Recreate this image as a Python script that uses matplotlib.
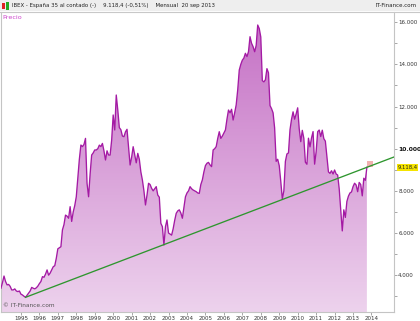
import numpy as np
import matplotlib
matplotlib.use("Agg")
import matplotlib.pyplot as plt
from matplotlib.patches import Polygon, Rectangle
from matplotlib.colors import LinearSegmentedColormap

# ---------------- data ----------------
start_year, start_month = 1993, 11          # first monthly close: Nov 1993
close = [
    3380, 3650,
    3960, 3700, 3540, 3560, 3470, 3300, 3300, 3350, 3250, 3220, 3250, 3100,        # 1994
    3060, 3000, 2950, 3050, 3150, 3250, 3420, 3380, 3350, 3400, 3480, 3600,        # 1995
    3700, 3930, 3900, 4050, 4250, 4000, 4100, 4250, 4400, 4450, 4800, 5250,        # 1996
    5300, 5350, 6150, 6400, 6850, 6800, 6700, 7250, 6550, 7000, 7300, 7720,        # 1997
    8600, 9500, 10175, 10100, 10200, 10490, 8360, 7720, 8800, 9700, 9800, 9940,    # 1998
    9940, 10000, 10170, 10100, 10250, 9900, 9464, 9900, 9700, 9700, 10400, 11600,  # 1999
    10887, 12547, 11835, 11000, 10900, 10600, 10570, 10800, 10920, 10095, 9227, 9600,  # 2000
    10095, 9700, 9330, 9780, 9500, 8900, 8515, 8000, 7330, 7800, 8360, 8300,       # 2001
    8120, 8000, 8100, 8200, 7800, 7700, 6460, 6300, 5430, 6300, 6620, 6000,        # 2002
    5950, 5900, 6200, 6600, 6935, 7050, 7100, 6950, 6700, 7200, 7720, 7900,        # 2003
    8000, 8200, 8100, 8040, 8000, 7960, 7900, 7880, 8300, 8520, 8900, 9200,        # 2004
    9310, 9350, 9230, 9150, 9940, 10000, 10100, 10490, 10807, 10490, 10600, 10750, # 2005
    10890, 11400, 11835, 11700, 11870, 11360, 11700, 12080, 12800, 13733, 14000, 14200,  # 2006
    14300, 14525, 14370, 14600, 15313, 15000, 14840, 14600, 14900, 15868, 15700, 15300,  # 2007
    13229, 13170, 13270, 13798, 13600, 12046, 11900, 11700, 10987, 9400, 9500, 9196,     # 2008
    8450, 7620, 8000, 9400, 9750, 9800, 10900, 11400, 11750, 11400, 11650, 11940,        # 2009
    10947, 10333, 10871, 10492, 9359, 9263, 10499, 10087, 10514, 10812, 9267, 9859,      # 2010
    10806, 10887, 10576, 10878, 10476, 10359, 9631, 8900, 8830, 8955, 8800, 8990,        # 2011
    8800, 8750, 8100, 7100, 6100, 7100, 6740, 7500, 7750, 7900, 7950, 8200,              # 2012
    8362, 8280, 7960, 8400, 8300, 7762, 8600, 8500, 9118,                                # 2013
]
last_value_label = "9.118,4"

trend_dates = [1995.25, 2015.2]
trend_values = [2950, 9600]

year_labels = list(range(1995, 2015))
ytick_values = [4000, 6000, 8000, 10000, 12000, 14000, 16000]
yminor_values = [3000, 5000, 7000, 9000, 11000, 13000, 15000]

header_text = "IBEX - España 35 al contado (-)    9.118,4 (-0,51%)    Mensual  20 sep 2013"

# ---------------- figure ----------------
W, H = 420, 321
fig = plt.figure(figsize=(W / 100, H / 100), dpi=100)
fig.patch.set_facecolor("white")

def fx(px):
    return px / W

def fy(py):
    return 1 - py / H

# header bar
fig.patches.append(Rectangle((0, fy(11)), 1, 11 / H, transform=fig.transFigure,
                             facecolor="#eeeeee", edgecolor="none", zorder=0))
fig.lines.append(plt.Line2D([0, 1], [fy(11.5), fy(11.5)], transform=fig.transFigure,
                            color="#c8c8c8", lw=0.8))
# small candle icon
fig.patches.append(Rectangle((fx(2), fy(9)), fx(3), 6 / H, transform=fig.transFigure,
                             facecolor="#dd2222", edgecolor="none"))
fig.patches.append(Rectangle((fx(6), fy(10)), fx(3), 8 / H, transform=fig.transFigure,
                             facecolor="#22aa22", edgecolor="none"))
fig.text(fx(12), fy(5.8), header_text, fontsize=3.9, color="#222222",
         ha="left", va="center", family="DejaVu Sans")
fig.text(fx(417), fy(5.8), "IT-Finance.com", fontsize=4.0, color="#222222",
         ha="right", va="center")

ax = fig.add_axes([fx(1), fy(312), fx(393), (312 - 12) / H])
ymin, ymax = 2253, 16485
xmin, xmax = 1993.92, 2015.22
ax.set_xlim(xmin, xmax)
ax.set_ylim(ymin, ymax)

t = np.array([start_year + (start_month - 1 + i + 1) / 12.0 for i in range(len(close))])
v = np.array(close, dtype=float)

# gradient fill under the curve
cmap = LinearSegmentedColormap.from_list("g", ["#edd2ed", "#c46ec4"])
grad = np.linspace(0, 1, 256).reshape(-1, 1)
img = ax.imshow(grad, extent=[xmin, xmax, ymin, ymax], origin="lower",
                aspect="auto", cmap=cmap, zorder=1, interpolation="bilinear")
verts = np.vstack([[t[0], ymin], np.column_stack([t, v]), [t[-1], ymin]])
poly = Polygon(verts, closed=True, facecolor="none", edgecolor="none",
               transform=ax.transData)
ax.add_patch(poly)
img.set_clip_path(poly)

ax.plot(t, v, color="#a41aa4", lw=0.95, zorder=3, solid_joinstyle="round")

# trend line
ax.plot(trend_dates, trend_values, color="#2e962e", lw=0.95, zorder=4)

# last-bar marker
ax.add_patch(Rectangle((t[-1] - 0.02, v[-1]), 0.36, 300, facecolor="#f2b0b0",
                       edgecolor="none", zorder=2.5))

# axes styling
ax.spines["top"].set_visible(False)
for s in ["left", "right", "bottom"]:
    ax.spines[s].set_color("#c4c4c4")
    ax.spines[s].set_linewidth(0.8)

ax.yaxis.tick_right()
ax.set_yticks(ytick_values)
ax.set_yticks(yminor_values, minor=True)
ax.set_yticklabels([f"{x:,}".replace(",", ".") for x in ytick_values])
ax.tick_params(axis="y", which="both", direction="out", length=2, width=0.6,
               color="#999999", labelsize=4.0, labelcolor="#333333", pad=1.0)
for lab, val in zip(ax.get_yticklabels(), ytick_values):
    if val == 10000:
        lab.set_fontweight("bold")
        lab.set_fontsize(4.3)
        lab.set_color("#111111")

ax.set_xticks(year_labels)
ax.set_xticklabels([str(y) for y in year_labels])
ax.tick_params(axis="x", direction="out", length=2, width=0.6, color="#999999",
               labelsize=4.0, labelcolor="#333333", pad=1)

# current value label
ax.text(1.009, (v[-1] - ymin) / (ymax - ymin), last_value_label, transform=ax.transAxes,
        fontsize=3.8, color="#222222", ha="left", va="center",
        bbox=dict(boxstyle="square,pad=0.15", facecolor="#f5e400", edgecolor="none"),
        zorder=10, clip_on=False)

# texts inside
ax.text(0.003, 0.99, "Precio", transform=ax.transAxes, fontsize=4.6,
        color="#cc44cc", ha="left", va="top", zorder=6)
ax.text(0.004, 0.012, "© IT-Finance.com", transform=ax.transAxes, fontsize=4.2,
        color="#555555", ha="left", va="bottom", zorder=6)

fig.savefig("out.png", dpi=100)
